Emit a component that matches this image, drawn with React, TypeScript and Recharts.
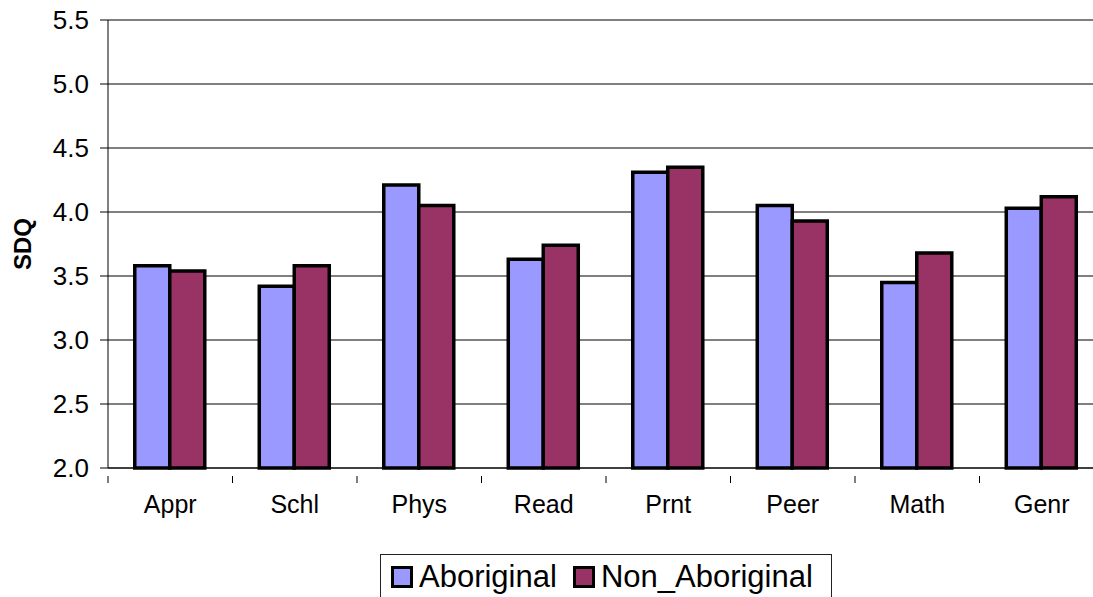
import { BarChart, Bar, XAxis, YAxis, CartesianGrid, Legend } from "recharts";

const categories = ["Appr", "Schl", "Phys", "Read", "Prnt", "Peer", "Math", "Genr"];
const aboriginal = [3.58, 3.42, 4.21, 3.63, 4.31, 4.05, 3.45, 4.03];
const nonAboriginal = [3.54, 3.58, 4.05, 3.74, 4.35, 3.93, 3.68, 4.12];
const yTicks = [2.0, 2.5, 3.0, 3.5, 4.0, 4.5, 5.0, 5.5];

const data = categories.map((name, i) => ({
  name,
  Aboriginal: aboriginal[i],
  Non_Aboriginal: nonAboriginal[i],
}));

const FONT = "'Liberation Sans', Arial, Helvetica, sans-serif";
const CHART_W = 1110;
const CHART_H = 610;
const Y_W = 108;
const MARGIN = { top: 20, right: 6, left: 0, bottom: 102 };
const BAND = (CHART_W - Y_W - MARGIN.left - MARGIN.right) / categories.length;

function XTick(props: any) {
  const { x, y, payload } = props;
  const left = x - BAND / 2;
  return (
    <g>
      <line x1={left} x2={left} y1={y} y2={y + 7} stroke="#000" strokeWidth={1} />
      <text x={x} y={y + 19} dy="0.71em" textAnchor="middle" fontSize={25} fontFamily={FONT} fill="#000">
        {payload.value}
      </text>
    </g>
  );
}

function LegendBox(props: any) {
  const items = props.payload || [];
  return (
    <div
      style={{
        border: "1px solid #222",
        height: 46,
        boxSizing: "border-box",
        display: "flex",
        alignItems: "center",
        paddingLeft: 10,
        fontFamily: FONT,
        fontSize: 31,
        color: "#000",
        background: "#fff",
      }}
    >
      {items.map((it: any) => (
        <span key={it.value} style={{ display: "inline-flex", alignItems: "center", marginRight: 16 }}>
          <span
            style={{
              width: 22,
              height: 22,
              boxSizing: "border-box",
              background: it.color,
              border: "3px solid #000",
              marginRight: 6,
              display: "inline-block",
            }}
          />
          {it.value}
        </span>
      ))}
    </div>
  );
}

export default function App() {
  return (
    <div style={{ position: "absolute", left: 0, top: 0, width: 1093, height: 597, overflow: "hidden", background: "#fff" }}>
      <BarChart
        width={CHART_W}
        height={CHART_H}
        data={data}
        margin={MARGIN}
        barCategoryGap="21.5%"
        barGap={0}
      >
        <CartesianGrid vertical={false} stroke="#000" strokeWidth={1} />
        <XAxis
          dataKey="name"
          height={40}
          axisLine={{ stroke: "#000", strokeWidth: 1 }}
          tickLine={false}
          tick={<XTick />}
          interval={0}
        />
        <YAxis
          width={Y_W}
          domain={[2, 5.5]}
          ticks={yTicks}
          interval={0}
          tickFormatter={(v: number) => v.toFixed(1)}
          axisLine={{ stroke: "#000", strokeWidth: 1 }}
          tickLine={{ stroke: "#000", strokeWidth: 1 }}
          tickSize={8}
          tickMargin={11}
          tick={{ fontSize: 26, fontFamily: FONT, fill: "#000" }}
          label={{
            value: "SDQ",
            angle: -90,
            position: "insideLeft",
            offset: 0,
            dx: 22,
            style: { fontSize: 24, fontWeight: "bold", fontFamily: FONT, fill: "#000", textAnchor: "middle" },
          }}
        />
        <Legend
          layout="horizontal"
          verticalAlign="middle"
          align="center"
          content={<LegendBox />}
          wrapperStyle={{ position: "absolute", top: 554, left: 380, width: 452 }}
        />
        <Bar dataKey="Aboriginal" fill="#9999FF" stroke="#000" strokeWidth={3.5} isAnimationActive={false} />
        <Bar dataKey="Non_Aboriginal" fill="#993366" stroke="#000" strokeWidth={3.5} isAnimationActive={false} />
      </BarChart>
    </div>
  );
}
